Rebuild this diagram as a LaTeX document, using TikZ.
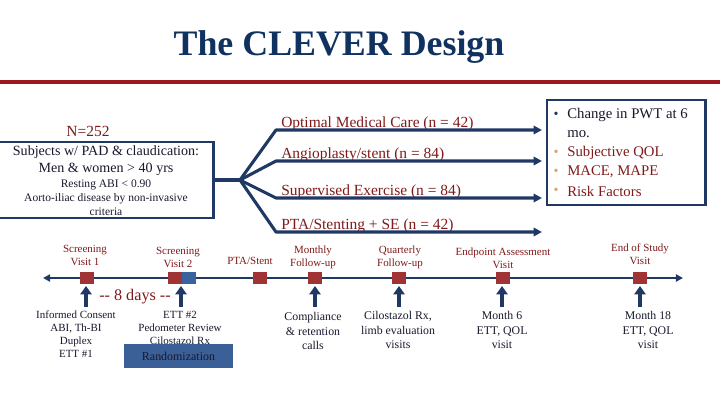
\documentclass[tikz,border=0pt]{standalone}
\usepackage{fontspec}
\setmainfont{Liberation Serif}
\usetikzlibrary{arrows.meta}
\definecolor{navy}{RGB}{31,56,100}
\definecolor{titleblue}{RGB}{16,50,96}
\definecolor{dred}{RGB}{128,26,26}
\definecolor{rulered}{RGB}{155,25,30}
\definecolor{sqred}{RGB}{160,52,52}
\definecolor{sqblue}{RGB}{58,98,158}
\definecolor{randfill}{RGB}{59,96,152}
\definecolor{bultan}{RGB}{214,164,112}
\definecolor{ink}{RGB}{24,24,44}

\begin{document}
\begin{tikzpicture}[
  x=0.025cm, y=-0.025cm,
  box/.style={draw=navy, line width=2.1pt, inner sep=0pt},
  branch/.style={navy, line width=2.2pt, line join=round},
  tline/.style={navy, line width=2pt},
  uparr/.style={navy, line width=2.6pt, -{Triangle[width=8pt,length=6pt]}},
  visit/.style={minimum width=0.35cm, minimum height=0.3cm, inner sep=0pt, fill=sqred},
  toplbl/.style={dred, align=center, inner sep=0pt, font=\fontsize{7.8}{9.3}\selectfont},
  botlbl/.style={ink, align=center, inner sep=0pt, font=\fontsize{8.4}{10.3}\selectfont},
  armlbl/.style={dred, anchor=base west, inner sep=0pt, font=\fontsize{11}{13}\selectfont}
]
\useasboundingbox (0,0) rectangle (720,405);

\node[titleblue, font=\fontsize{25.5}{30}\selectfont\bfseries] (title) at (339,47) {The CLEVER Design};
\draw[rulered, line width=2.4pt] (0,82) -- (720,82);

% study population
\node[dred, font=\fontsize{11}{13}\selectfont] (n) at (88,131) {N=252};
\node[box, minimum width=5.4cm, minimum height=1.9cm] (subj) at (105,180) {};
\node[ink, align=center, inner sep=0pt, font=\fontsize{10}{12.1}\selectfont] (subjtop) at (106,161) {Subjects w/ PAD \& claudication:\\Men \& women > 40 yrs};
\node[ink, align=center, inner sep=0pt, font=\fontsize{8.2}{10}\selectfont] (subjbot) at (106,198) {Resting ABI < 0.90\\Aorto-iliac disease by non-invasive\\criteria};

% randomisation arms
\coordinate (fork) at (240,180);
\draw[branch] (subj.east) -- (fork);
\foreach \y/\txt [count=\i] in {130/{Optimal Medical Care (n = 42)}, 161/{Angioplasty/stent (n = 84)}, 198/{Supervised Exercise (n = 84)}, 232/{PTA/Stenting + SE (n = 42)}} {
  \coordinate (bend\i) at (276,\y);
  \coordinate (tip\i) at (542,\y);
  \node[armlbl] (arm\i) at (281,\y-2) {\txt};
  \draw[branch, -{Triangle[width=6pt,length=6pt]}] (fork) -- (bend\i) -- (tip\i);
}

% outcomes
\node[box, minimum width=3.95cm, minimum height=2.625cm] (outc) at (626,152.5) {};
\foreach \y/\bc/\tc/\txt in {115/navy/ink/{Change in PWT at 6}, 153/bultan/dred/{Subjective QOL}, 172/bultan/dred/{MACE, MAPE}, 191/bultan/dred/{Risk Factors}} {
  \node[\bc, inner sep=0pt, font=\fontsize{10}{11}\selectfont] at (556,\y) {•};
  \node[\tc, anchor=west, inner sep=0pt, font=\fontsize{10.5}{12}\selectfont] at (567,\y) {\txt};
}
\node[ink, anchor=west, inner sep=0pt, font=\fontsize{10.5}{12}\selectfont] (mo) at (567,134) {mo.};

% timeline
\coordinate (tstart) at (43,278);
\coordinate (tend) at (683,278);
\draw[tline, {Triangle[width=5pt,length=5pt]}-{Triangle[width=5pt,length=5pt]}] (tstart) -- (tend);
\foreach \n/\x in {v1/87, v2/175, v3/260, v4/315, v5/399, v6/503, v7/640}
  \node[visit] (\n) at (\x,278) {};
\node[visit, fill=sqblue] (rnd) at (189,278) {};

\foreach \x/\y/\txt [count=\i] in {85/255/{Screening\\Visit 1}, 178/257/{Screening\\Visit 2}, 250/261/{PTA/Stent}, 313/257/{Monthly\\Follow-up}, 400/257/{Quarterly\\Follow-up}, 503/258.5/{Endpoint Assessment\\Visit}, 640/254/{End of Study\\Visit}}
  \node[toplbl] (t\i) at (\x,\y) {\txt};

\foreach \x [count=\i] in {86,181,315,399,502,640} {
  \coordinate (lo\i) at (\x,307);
  \coordinate (hi\i) at (\x,286);
  \draw[uparr] (lo\i) -- (hi\i);
}

\node[dred, font=\fontsize{11.5}{13}\selectfont] (gap) at (135,297) {{-}{-} 8 days {-}{-}};

\node[botlbl, font=\fontsize{7.8}{9.3}\selectfont] (b1) at (76,334) {Informed Consent\\ABI, Th-BI\\Duplex\\ETT \#1};
\node[botlbl, font=\fontsize{7.8}{9.3}\selectfont] (b2) at (180,327.5) {ETT \#2\\Pedometer Review\\Cilostazol Rx};
\node[fill=randfill, text=ink, minimum width=2.725cm, minimum height=0.6cm, inner sep=0pt, font=\fontsize{8.5}{10}\selectfont] (randbox) at (178.5,356) {Randomization};
\node[botlbl] (b3) at (313,331) {Compliance\\\& retention\\calls};
\node[botlbl] (b4) at (398,330) {Cilostazol Rx,\\limb evaluation\\visits};
\node[botlbl] (b5) at (502,330) {Month 6\\ETT, QOL\\visit};
\node[botlbl] (b6) at (648,330) {Month 18\\ETT, QOL\\visit};
\end{tikzpicture}
\end{document}
